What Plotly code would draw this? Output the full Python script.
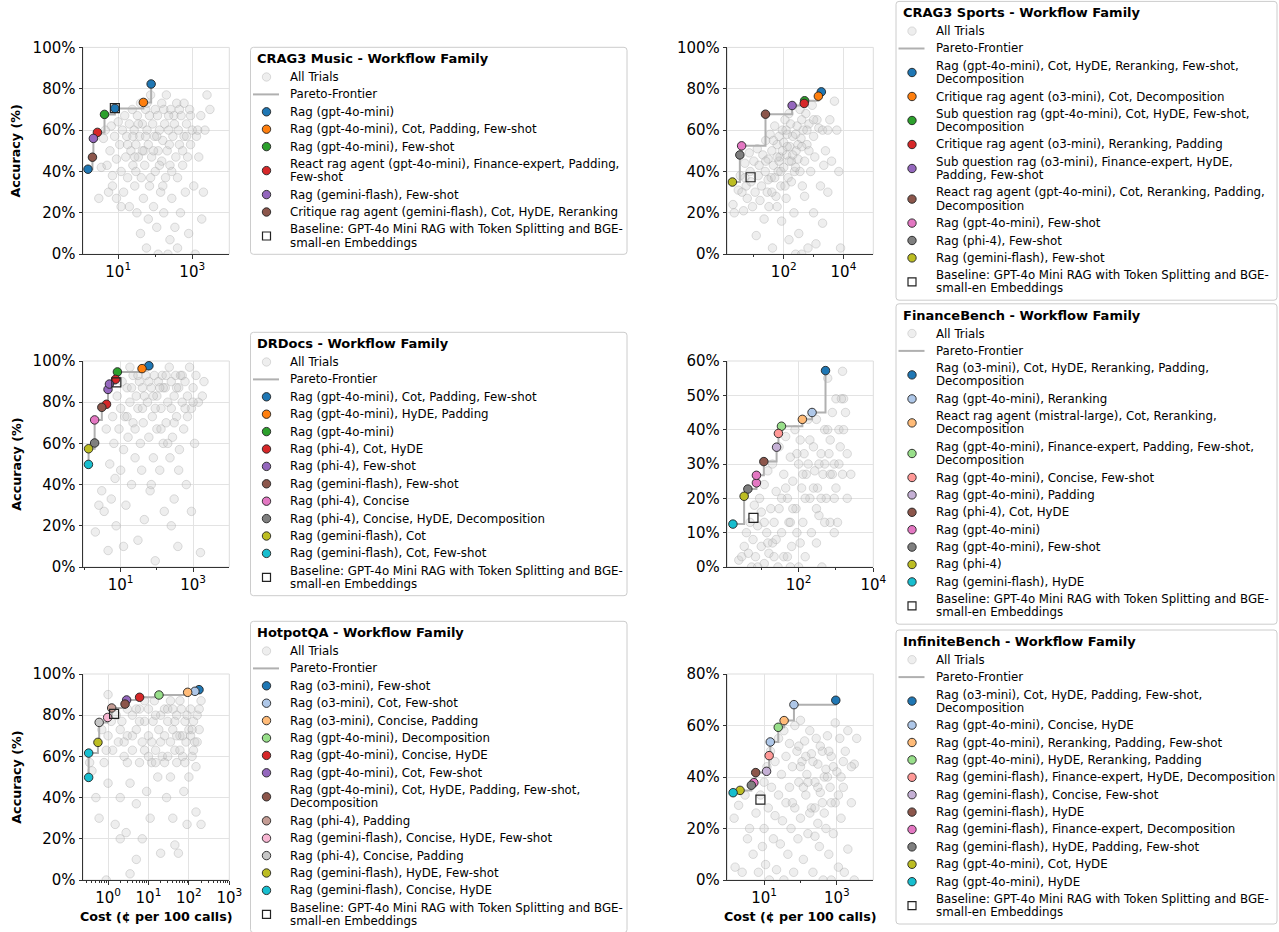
import plotly.graph_objects as go

FONT = "DejaVu Sans"

TAB10 = ["#1f77b4", "#ff7f0e", "#2ca02c", "#d62728", "#9467bd",
         "#8c564b", "#e377c2", "#7f7f7f", "#bcbd22", "#17becf"]
TAB_FIN = ["#1f77b4", "#aec7e8", "#ffbb78", "#98df8a", "#ff9896", "#c5b0d5",
           "#8c564b", "#e377c2", "#7f7f7f", "#bcbd22", "#17becf"]
TAB_HOT = ["#1f77b4", "#aec7e8", "#ffbb78", "#98df8a", "#d62728", "#9467bd",
           "#8c564b", "#c49c94", "#f7b6d2", "#c7c7c7", "#bcbd22", "#17becf"]

BASELINE = "Baseline: GPT-4o Mini RAG with Token Splitting and BGE-<br>small-en Embeddings"

# ---------------- CRAG3 Music ----------------
music_trials = [
    (3, 27), (3.5, 42), (4, 56), (4.5, 60), (5, 43), (5.5, 30), (6, 50), (6.5, 62), (7, 38), (8, 57),
    (9, 46), (9, 27), (10, 64), (11, 53), (12, 40), (13, 60), (14, 30), (15, 67), (16, 47), (17, 57),
    (18, 37), (20, 63), (20, 23), (22, 50), (24, 70), (25, 43), (27, 60), (28, 33), (30, 53), (32, 20),
    (33, 67), (35, 47), (38, 57), (40, 10), (40, 73), (42, 37), (45, 63), (48, 27), (50, 50), (52, 43),
    (55, 70), (58, 3), (60, 60), (65, 17), (65, 53), (70, 33), (75, 77), (80, 47), (85, 63), (90, 23),
    (95, 57), (100, 70), (100, 40), (110, 13), (115, 67), (120, 50), (130, 60), (140, 30), (150, 73), (150, 45),
    (160, 55), (170, 20), (180, 63), (190, 37), (200, 77), (210, 50), (220, 0), (230, 60), (250, 43), (260, 70),
    (280, 27), (300, 57), (320, 67), (340, 13), (360, 47), (380, 73), (400, 37), (420, 60), (450, 53), (480, 20),
    (500, 67), (550, 43), (600, 57), (650, 30), (700, 63), (750, 47), (800, 10), (850, 70), (900, 53), (1000, 60),
    (1100, 33), (1200, 0), (1300, 57), (1500, 47), (1700, 67), (2000, 30), (2200, 60), (2500, 77), (3000, 70), (1800, 17),
    (400, 3), (250, 7), (120, 0), (30, 40), (60, 73), (45, 50), (7, 33), (12, 23), (600, 73), (25, 57),
    (35, 63), (55, 57), (70, 67), (90, 50), (130, 43), (170, 70), (240, 53), (330, 63), (450, 70), (700, 57),
    (18, 53), (28, 47), (75, 37), (160, 33), (280, 40), (550, 50), (900, 67), (1400, 60), (110, 57), (230, 67),
]
music_families = [
    "Rag (gpt-4o-mini)",
    "Rag (gpt-4o-mini), Cot, Padding, Few-shot",
    "Rag (gpt-4o-mini), Few-shot",
    "React rag agent (gpt-4o-mini), Finance-expert, Padding,<br>Few-shot",
    "Rag (gemini-flash), Few-shot",
    "Critique rag agent (gemini-flash), Cot, HyDE, Reranking",
]
music_cost = [[1.53, 8.13, 77.6], [47.9], [4.27], [2.75], [2.14], [2.02]]
music_acc = [[41.1, 70.5, 82.3], [73.4], [67.6], [58.9], [56.0], [46.9]]
music_base_cost = [8.13]
music_base_acc = [70.6]

# ---------------- CRAG3 Sports ----------------
sports_trials = [
    (2, 24), (2.2, 20), (3, 31), (3.5, 38), (4, 30), (4.5, 21), (5, 44), (5.5, 33), (6, 27), (7, 49),
    (7.5, 40), (8, 35), (9, 23), (10, 45), (11, 30), (12, 9), (13, 51), (14, 38), (15, 43), (16, 26),
    (18, 33), (20, 48), (22, 17), (24, 40), (25, 55), (28, 30), (30, 46), (32, 23), (35, 58), (38, 37),
    (40, 50), (42, 3), (45, 43), (50, 62), (55, 28), (60, 53), (65, 40), (70, 57), (75, 47), (80, 33),
    (85, 16), (90, 60), (100, 42), (100, 54), (110, 65), (120, 27), (125, 48), (130, 58), (140, 37), (150, 7),
    (160, 52), (170, 63), (180, 45), (200, 57), (220, 20), (230, 40), (250, 0), (260, 50), (280, 62), (300, 46),
    (320, 10), (350, 70), (380, 56), (400, 0), (420, 33), (450, 60), (500, 45), (550, 68), (600, 53), (650, 3),
    (700, 63), (800, 40), (900, 72), (1000, 57), (1100, 47), (1200, 5), (1300, 65), (1500, 61), (1700, 33), (2000, 60),
    (2200, 43), (2500, 50), (3000, 60), (3500, 65), (4000, 45), (5000, 74), (6000, 60), (7000, 40), (8000, 3), (2000, 15),
    (1000, 20), (60, 23), (30, 36), (3000, 30), (5, 37), (500, 28), (150, 68), (70, 45), (300, 53), (40, 30),
    (45, 55), (90, 50), (120, 60), (200, 48), (250, 58), (400, 52), (600, 60), (150, 45), (80, 40), (180, 35),
    (350, 40), (700, 50), (110, 33), (60, 47), (25, 45), (400, 65), (250, 42), (1000, 65), (130, 52), (50, 37),
]
sports_families = [
    "Rag (gpt-4o-mini), Cot, HyDE, Reranking, Few-shot,<br>Decomposition",
    "Critique rag agent (o3-mini), Cot, Decomposition",
    "Sub question rag (gpt-4o-mini), Cot, HyDE, Few-shot,<br>Decomposition",
    "Critique rag agent (o3-mini), Reranking, Padding",
    "Sub question rag (o3-mini), Finance-expert, HyDE,<br>Padding, Few-shot",
    "React rag agent (gpt-4o-mini), Cot, Reranking, Padding,<br>Decomposition",
    "Rag (gpt-4o-mini), Few-shot",
    "Rag (phi-4), Few-shot",
    "Rag (gemini-flash), Few-shot",
]
sports_cost = [[1820], [1445], [500], [485], [191], [24.5], [3.89], [3.39], [1.91]]
sports_acc = [[78.5], [76.4], [74.2], [72.9], [71.9], [67.7], [52.4], [48.0], [34.9]]
sports_base_cost = [7.76]
sports_base_acc = [37.2]

# ---------------- DRDocs ----------------
drdocs_trials = [
    (2, 17), (2.5, 30), (3, 37), (3.5, 27), (4, 67), (4.5, 8), (5, 50), (5.5, 33), (6, 73), (6.5, 60),
    (7, 43), (7.5, 20), (8, 83), (9, 67), (10, 77), (10, 47), (11, 90), (12, 57), (13, 73), (14, 30),
    (15, 87), (16, 63), (18, 80), (20, 40), (22, 93), (22, 70), (25, 53), (27, 83), (30, 13), (30, 77),
    (33, 90), (35, 60), (38, 47), (40, 87), (42, 70), (45, 23), (50, 93), (55, 80), (60, 63), (65, 37),
    (70, 87), (75, 73), (80, 53), (85, 93), (90, 3), (100, 83), (100, 67), (110, 90), (120, 47), (130, 77),
    (140, 93), (150, 60), (160, 27), (170, 87), (180, 70), (200, 80), (220, 97), (230, 53), (250, 90), (270, 63),
    (300, 33), (300, 83), (330, 93), (350, 73), (380, 10), (400, 87), (420, 57), (450, 93), (500, 80), (550, 67),
    (600, 90), (650, 40), (700, 83), (800, 97), (900, 77), (1000, 87), (1100, 60), (1200, 93), (1400, 80), (1600, 7),
    (1800, 83), (2000, 90), (50, 97), (18, 97), (70, 40), (400, 47), (12, 10), (250, 20), (900, 27), (150, 87),
    (20, 87), (30, 93), (45, 83), (60, 90), (90, 77), (120, 87), (180, 93), (250, 77), (350, 87), (500, 93),
    (700, 73), (1000, 80), (15, 73), (40, 77), (80, 83), (130, 67), (300, 70), (600, 77), (25, 67), (200, 60),
]
drdocs_families = [
    "Rag (gpt-4o-mini), Cot, Padding, Few-shot",
    "Rag (gpt-4o-mini), HyDE, Padding",
    "Rag (gpt-4o-mini)",
    "Rag (phi-4), Cot, HyDE",
    "Rag (phi-4), Few-shot",
    "Rag (gemini-flash), Few-shot",
    "Rag (phi-4), Concise",
    "Rag (phi-4), Concise, HyDE, Decomposition",
    "Rag (gemini-flash), Cot",
    "Rag (gemini-flash), Cot, Few-shot",
]
drdocs_cost = [[60.3], [38.9], [8.13], [4.07, 7.24], [4.47, 4.9], [3.02], [1.91], [1.91], [1.3], [1.29]]
drdocs_acc = [[97.7], [96.3], [94.7], [79.0, 91.1], [86.2, 88.8], [77.5], [71.4], [60.2], [57.4], [49.8]]
drdocs_base_cost = [7.6]
drdocs_base_acc = [89.6]

# ---------------- FinanceBench ----------------
finance_trials = [
    (2.5, 2), (3, 3), (3.5, 6), (4, 10), (4.5, 4), (5, 13), (5.5, 0), (6, 8), (6.5, 18), (7, 3),
    (8, 12), (9, 20), (10, 6), (10, 16), (12, 1), (12, 24), (14, 10), (15, 28), (16, 4), (18, 17),
    (20, 30), (20, 7), (22, 13), (25, 22), (28, 0), (30, 35), (30, 17), (35, 10), (40, 27), (40, 3),
    (45, 38), (50, 20), (55, 13), (60, 32), (65, 6), (70, 25), (80, 40), (85, 17), (90, 10), (100, 30),
    (100, 0), (110, 37), (120, 23), (130, 13), (140, 33), (150, 3), (160, 27), (180, 43), (200, 20), (220, 10),
    (250, 35), (270, 28), (300, 43), (320, 23), (350, 15), (400, 33), (420, 0), (450, 27), (500, 40), (550, 20),
    (600, 55), (650, 33), (700, 27), (800, 45), (900, 30), (1000, 49), (1000, 23), (1200, 40), (1300, 35), (1500, 57),
    (1500, 27), (1800, 45), (2000, 33), (300, 7), (60, 0), (25, 8), (8, 0), (700, 13), (1100, 13), (1600, 49),
    (1400, 49), (500, 30), (200, 37), (45, 23), (150, 20), (900, 20), (350, 30), (12, 13), (2000, 20), (600, 40),
    (70, 17), (130, 27), (250, 23), (400, 20), (800, 27), (1200, 30), (90, 33), (180, 30), (500, 13), (35, 20),
    (15, 7), (60, 13), (110, 7), (300, 17), (900, 10), (700, 37), (1600, 40), (22, 3), (50, 3), (2500, 27),
]
finance_families = [
    "Rag (o3-mini), Cot, HyDE, Reranking, Padding,<br>Decomposition",
    "Rag (gpt-4o-mini), Reranking",
    "React rag agent (mistral-large), Cot, Reranking,<br>Decomposition",
    "Rag (gpt-4o-mini), Finance-expert, Padding, Few-shot,<br>Decomposition",
    "Rag (gpt-4o-mini), Concise, Few-shot",
    "Rag (gpt-4o-mini), Padding",
    "Rag (phi-4), Cot, HyDE",
    "Rag (gpt-4o-mini)",
    "Rag (gpt-4o-mini), Few-shot",
    "Rag (phi-4)",
    "Rag (gemini-flash), HyDE",
]
finance_cost = [[525], [229], [126], [34.7], [28.8], [25.7], [11.7], [7.41, 7.41], [4.37], [3.47], [1.74]]
finance_acc = [[57.2], [45.0], [43.0], [41.0], [38.9], [34.9], [30.7], [24.5, 26.7], [22.7], [20.6], [12.5]]
finance_base_cost = [6.17]
finance_base_acc = [14.3]

# ---------------- HotpotQA ----------------
hotpot_trials = [
    (0.4, 53), (0.5, 40), (0.6, 30), (0.7, 73), (0.8, 57), (0.9, 0), (1, 70), (1, 47), (1.2, 77), (1.3, 63),
    (1.5, 27), (1.6, 80), (1.8, 67), (2, 40), (2.2, 77), (2.5, 60), (2.8, 23), (3, 83), (3, 70), (3.5, 47),
    (4, 80), (4, 63), (5, 73), (5, 37), (6, 83), (6, 57), (7, 20), (8, 77), (8, 63), (9, 43),
    (10, 83), (10, 70), (11, 30), (12, 57), (13, 77), (14, 87), (15, 63), (17, 50), (18, 73), (20, 80),
    (20, 13), (22, 60), (25, 83), (25, 70), (28, 40), (30, 77), (30, 60), (35, 87), (35, 50), (40, 73),
    (40, 30), (45, 63), (50, 80), (50, 57), (55, 13), (60, 70), (65, 83), (70, 60), (75, 43), (80, 77),
    (85, 67), (90, 27), (100, 73), (100, 50), (110, 83), (120, 60), (130, 77), (140, 67), (150, 33), (160, 80),
    (180, 73), (200, 27), (200, 87), (3.5, 3), (5, 10), (2, 20), (1, 90), (0.35, 57), (60, 87), (150, 55),
    (45, 17), (3, 57), (12, 67), (70, 70), (130, 63), (0.9, 63), (25, 57), (160, 67), (8, 87), (40, 83),
    (2, 73), (4, 70), (6, 77), (10, 60), (15, 80), (20, 67), (30, 83), (45, 77), (60, 63), (90, 80),
    (120, 73), (180, 83), (2.5, 67), (7, 67), (15, 57), (35, 67), (80, 57), (110, 70), (5, 83), (50, 70),
]
hotpot_families = [
    "Rag (o3-mini), Few-shot",
    "Rag (o3-mini), Cot, Few-shot",
    "Rag (o3-mini), Concise, Padding",
    "Rag (gpt-4o-mini), Decomposition",
    "Rag (gpt-4o-mini), Concise, HyDE",
    "Rag (gpt-4o-mini), Cot, Few-shot",
    "Rag (gpt-4o-mini), Cot, HyDE, Padding, Few-shot,<br>Decomposition",
    "Rag (phi-4), Padding",
    "Rag (gemini-flash), Concise, HyDE, Few-shot",
    "Rag (phi-4), Concise, Padding",
    "Rag (gemini-flash), HyDE, Few-shot",
    "Rag (gemini-flash), Concise, HyDE",
]
hotpot_cost = [[178], [141], [93.3], [18.2], [6.03], [2.88], [2.63], [1.23], [0.977], [0.603], [0.562], [0.331, 0.331]]
hotpot_acc = [[92.4], [91.6], [91.1], [89.8], [88.7], [87.4], [85.4], [83.5], [78.9], [76.5], [66.8], [49.8, 61.6]]
hotpot_base_cost = [1.41]
hotpot_base_acc = [80.6]

# ---------------- InfiniteBench ----------------
infinite_trials = [
    (1.5, 24), (1.6, 5), (2, 29), (2.5, 3), (3, 33), (3.5, 16), (4, 20), (5, 10), (6, 26), (7, 3),
    (8, 33), (9, 13), (10, 38), (10, 20), (11, 6), (12, 44), (13, 28), (14, 0), (15, 50), (16, 36),
    (18, 16), (20, 46), (20, 25), (22, 4), (25, 55), (25, 33), (28, 14), (30, 41), (32, 23), (35, 58),
    (35, 0), (40, 48), (40, 30), (45, 10), (50, 53), (50, 36), (55, 20), (60, 44), (65, 3), (70, 60),
    (70, 28), (80, 50), (85, 16), (90, 38), (100, 62), (100, 24), (110, 46), (120, 8), (130, 54), (140, 33),
    (150, 41), (160, 18), (180, 58), (200, 28), (200, 49), (220, 3), (250, 38), (270, 55), (300, 22), (300, 45),
    (330, 13), (350, 34), (400, 50), (420, 0), (450, 26), (500, 43), (550, 56), (600, 10), (650, 36), (700, 48),
    (800, 18), (900, 61), (900, 30), (1000, 42), (1100, 5), (1200, 55), (1300, 24), (1500, 36), (1700, 50), (2000, 12),
    (2000, 58), (2500, 30), (3000, 45), (3500, 55), (3000, 0), (1600, 3), (700, 0), (250, 17), (450, 40), (120, 36),
    (60, 30), (100, 44), (160, 38), (220, 46), (300, 36), (400, 30), (550, 40), (800, 44), (1100, 33), (1500, 46),
    (180, 26), (350, 52), (500, 20), (700, 30), (1300, 40), (2500, 44), (90, 52), (140, 48), (250, 28), (600, 50),
]
infinite_families = [
    "Rag (o3-mini), Cot, HyDE, Padding, Few-shot,<br>Decomposition",
    "Rag (gpt-4o-mini), Concise, HyDE",
    "Rag (gpt-4o-mini), Reranking, Padding, Few-shot",
    "Rag (gpt-4o-mini), HyDE, Reranking, Padding",
    "Rag (gemini-flash), Finance-expert, HyDE, Decomposition",
    "Rag (gemini-flash), Concise, Few-shot",
    "Rag (gemini-flash), HyDE",
    "Rag (gemini-flash), Finance-expert, Decomposition",
    "Rag (gemini-flash), HyDE, Padding, Few-shot",
    "Rag (gpt-4o-mini), Cot, HyDE",
    "Rag (gpt-4o-mini), HyDE",
]
infinite_cost = [[933], [14.8, 66.1], [35.5], [24.5], [13.8], [11.7], [5.89], [5.25], [4.47], [2.19], [1.41]]
infinite_acc = [[69.8], [53.6, 68.1], [61.9], [59.3], [48.3], [42.2], [41.7], [37.8], [36.8], [34.8], [33.9]]
infinite_base_cost = [7.94]
infinite_base_acc = [31.2]

panels = [
    dict(title="CRAG3 Music", trials=music_trials, fam=music_families, cost=music_cost, acc=music_acc,
         colors=TAB10, bc=music_base_cost, ba=music_base_acc, xr=[0.05, 4], xt=[1, 3], xm=[2],
         yt=[0, 20, 40, 60, 80, 100]),
    dict(title="CRAG3 Sports", trials=sports_trials, fam=sports_families, cost=sports_cost, acc=sports_acc,
         colors=TAB10, bc=sports_base_cost, ba=sports_base_acc, xr=[0.11, 5], xt=[2, 4], xm=[1, 3],
         yt=[0, 20, 40, 60, 80, 100]),
    dict(title="DRDocs", trials=drdocs_trials, fam=drdocs_families, cost=drdocs_cost, acc=drdocs_acc,
         colors=TAB10, bc=drdocs_base_cost, ba=drdocs_base_acc, xr=[-0.04, 4], xt=[1, 3], xm=[0, 2],
         yt=[0, 20, 40, 60, 80, 100]),
    dict(title="FinanceBench", trials=finance_trials, fam=finance_families, cost=finance_cost, acc=finance_acc,
         colors=TAB_FIN, bc=finance_base_cost, ba=finance_base_acc, xr=[0.09, 4], xt=[2, 4], xm=[1, 3],
         yt=[0, 10, 20, 30, 40, 50, 60]),
    dict(title="HotpotQA", trials=hotpot_trials, fam=hotpot_families, cost=hotpot_cost, acc=hotpot_acc,
         colors=TAB_HOT, bc=hotpot_base_cost, ba=hotpot_base_acc, xr=[-0.62, 3], xt=[0, 1, 2, 3], xm=None,
         yt=[0, 20, 40, 60, 80, 100]),
    dict(title="InfiniteBench", trials=infinite_trials, fam=infinite_families, cost=infinite_cost, acc=infinite_acc,
         colors=TAB_FIN, bc=infinite_base_cost, ba=infinite_base_acc, xr=[-0.01, 4], xt=[1, 3], xm=[2],
         yt=[0, 20, 40, 60, 80]),
]

# layout geometry, in pixels
W, H = 1279, 932
col_px = [(83, 229.3), (727.3, 873.3)]
row_px = [(47.4, 254.2), (361, 567), (674, 880)]
legend_left = [250.5, 896]
legend_width = [376.5, 381]
PITCH, LINE = 17.4, 13.2

TRIAL_FILL = "rgba(200,200,200,0.3)"
TRIAL_EDGE = "rgba(150,150,150,0.3)"
FRONT_COLOR = "#b0b0b0"


def fx(px):
    return px / W


def fy(py):
    return 1 - py / H


fig = go.Figure()
shapes, annotations = [], []
layout = dict(width=W, height=H, margin=dict(l=0, r=0, t=0, b=0), showlegend=False,
              plot_bgcolor="white", paper_bgcolor="white",
              font=dict(family=FONT, color="#000"))


def marker_shape(kind, cx, cy, color=None):
    base = dict(xref="paper", yref="paper", xsizemode="pixel", ysizemode="pixel",
                xanchor=fx(cx), yanchor=fy(cy))
    if kind == "trial":
        return dict(type="circle", x0=-4.2, x1=4.2, y0=-4.2, y1=4.2, fillcolor=TRIAL_FILL,
                    line=dict(color=TRIAL_EDGE, width=1), **base)
    if kind == "front":
        return dict(type="circle", x0=-4.2, x1=4.2, y0=-4.2, y1=4.2, fillcolor=color,
                    line=dict(color="#222", width=0.9), **base)
    return dict(type="rect", x0=-4, x1=4, y0=-4, y1=4, fillcolor="rgba(0,0,0,0)",
                line=dict(color="#222", width=1.2), **base)


def draw_legend(title, entries, left, width, center):
    extra = sum(lbl.count("<br>") for lbl, _, _ in entries)
    last = 29.7 + (len(entries) - 1) * PITCH + extra * LINE
    height = last + 11.7
    top = center - height / 2
    x0, x1, y0, y1, rr = left, left + width, top, top + height, 3
    path = (f"M {fx(x0 + rr)},{fy(y0)} L {fx(x1 - rr)},{fy(y0)} Q {fx(x1)},{fy(y0)} {fx(x1)},{fy(y0 + rr)} "
            f"L {fx(x1)},{fy(y1 - rr)} Q {fx(x1)},{fy(y1)} {fx(x1 - rr)},{fy(y1)} "
            f"L {fx(x0 + rr)},{fy(y1)} Q {fx(x0)},{fy(y1)} {fx(x0)},{fy(y1 - rr)} "
            f"L {fx(x0)},{fy(y0 + rr)} Q {fx(x0)},{fy(y0)} {fx(x0 + rr)},{fy(y0)} Z")
    shapes.append(dict(type="path", xref="paper", yref="paper", path=path, fillcolor="white",
                       line=dict(color="#cccccc", width=1)))
    annotations.append(dict(text=f"<b>{title}</b>", xref="paper", yref="paper", x=fx(left + 4.5),
                            y=fy(top + 11.3), xanchor="left", yanchor="middle", showarrow=False,
                            font=dict(size=13, family=FONT, color="#000")))
    cur = top + 29.7
    for label, kind, color in entries:
        lines = label.split("<br>")
        for j, ln in enumerate(lines):
            annotations.append(dict(text=ln, xref="paper", yref="paper", x=fx(left + 37.5),
                                    y=fy(cur + j * LINE), xanchor="left", yanchor="middle",
                                    showarrow=False, font=dict(size=11.8, family=FONT, color="#000")))
        mid = cur + (len(lines) - 1) * LINE / 2
        if kind == "line":
            shapes.append(dict(type="line", xref="paper", yref="paper", x0=fx(left + 2.5),
                               x1=fx(left + 28.5), y0=fy(mid), y1=fy(mid),
                               line=dict(color=FRONT_COLOR, width=2)))
        else:
            shapes.append(marker_shape(kind, left + 16, mid, color))
        cur += (len(lines) - 1) * LINE + PITCH


for i, p in enumerate(panels):
    n = i + 1
    xa, ya = ("x", "y") if n == 1 else (f"x{n}", f"y{n}")
    r, c = divmod(i, 2)

    tc = [t[0] for t in p["trials"]]
    ta = [t[1] for t in p["trials"]]
    fig.add_trace(go.Scatter(
        x=tc, y=ta, mode="markers", name="All Trials", xaxis=xa, yaxis=ya,
        marker=dict(size=8.5, color=TRIAL_FILL, line=dict(color=TRIAL_EDGE, width=1)),
        hoverinfo="skip"))

    # pareto frontier through the highlighted points, in cost order
    pts = sorted((cx, ac) for cs, accs in zip(p["cost"], p["acc"]) for cx, ac in zip(cs, accs))
    fig.add_trace(go.Scatter(
        x=[q[0] for q in pts], y=[q[1] for q in pts], mode="lines", name="Pareto-Frontier",
        xaxis=xa, yaxis=ya, line=dict(color=FRONT_COLOR, width=2, shape="hv")))

    for k, name in enumerate(p["fam"]):
        fig.add_trace(go.Scatter(
            x=p["cost"][k], y=p["acc"][k], mode="markers", name=name, xaxis=xa, yaxis=ya,
            marker=dict(size=8.5, color=p["colors"][k], line=dict(color="#222", width=0.9))))

    fig.add_trace(go.Scatter(
        x=p["bc"], y=p["ba"], mode="markers", name=BASELINE, xaxis=xa, yaxis=ya,
        marker=dict(size=9, symbol="square-open", color="#222", line=dict(width=1.2))))

    minor = dict(ticks="outside", ticklen=2, tickcolor="#333", showgrid=False)
    if p["xm"] is None:
        minor["tickvals"] = [m * 10 ** e for e in range(-1, 3) for m in range(2, 10) if m * 10 ** e >= 0.25]
    else:
        minor["tickvals"] = [10 ** e for e in p["xm"]]

    common = dict(showline=True, linecolor="#333", linewidth=1, ticks="outside", ticklen=3.5,
                  tickcolor="#333", showgrid=True, gridcolor="#e3e3e3", gridwidth=1, zeroline=False,
                  automargin=False, tickfont=dict(size=15, family=FONT, color="#000"))
    layout["xaxis" if n == 1 else f"xaxis{n}"] = dict(
        type="log", range=p["xr"], domain=[fx(col_px[c][0]), fx(col_px[c][1])], anchor=ya,
        tickvals=[10 ** e for e in p["xt"]], ticktext=[f"10<sup>{e}</sup>" for e in p["xt"]],
        minor=minor, **common)
    layout["yaxis" if n == 1 else f"yaxis{n}"] = dict(
        range=[0, p["yt"][-1]], domain=[fy(row_px[r][1]), fy(row_px[r][0])], anchor=xa,
        tickvals=p["yt"], ticktext=[f"{v}%" for v in p["yt"]], **common)

    shapes.append(dict(type="rect", xref=f"{xa} domain", yref=f"{ya} domain",
                       x0=0, x1=1, y0=0, y1=1, line=dict(color="#dddddd", width=1), layer="below"))

    entries = [("All Trials", "trial", None), ("Pareto-Frontier", "line", None)]
    entries += [(name, "front", p["colors"][k]) for k, name in enumerate(p["fam"])]
    entries.append((BASELINE, "base", None))
    center = (row_px[r][0] + row_px[r][1]) / 2
    draw_legend(f"{p['title']} - Workflow Family", entries, legend_left[c], legend_width[c], center)

    if c == 0:
        annotations.append(dict(
            text="<b>Accuracy (%)</b>", textangle=-90, xref="paper", yref="paper",
            x=fx(15.7), y=fy(center), xanchor="center", yanchor="middle",
            showarrow=False, font=dict(size=12.7, family=FONT, color="#000")))
    if r == 2:
        annotations.append(dict(
            text="<b>Cost (¢ per 100 calls)</b>", xref="paper", yref="paper",
            x=fx((col_px[c][0] + col_px[c][1]) / 2), y=fy(916.7), xanchor="center", yanchor="middle",
            showarrow=False, font=dict(size=12.7, family=FONT, color="#000")))

layout["shapes"] = shapes
layout["annotations"] = annotations
fig.update_layout(**layout)
fig.write_html("out.html", config={"displayModeBar": False},
               post_script="document.body.style.margin='0';")
